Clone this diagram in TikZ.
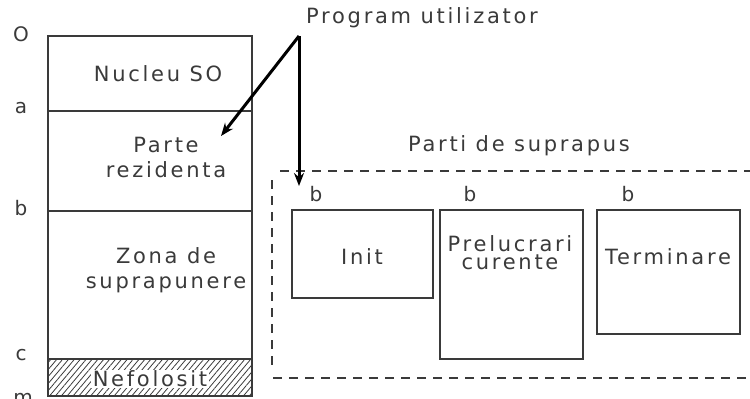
\documentclass[tikz,border=0pt]{standalone}
\usepackage{fontspec}
\setmainfont{DejaVu Sans}
\newfontfamily\cadfont[LetterSpace=13]{DejaVu Sans}
\usetikzlibrary{patterns.meta,arrows.meta}
\definecolor{ink}{HTML}{3A3A3A}
\tikzset{
  seg/.style={draw=ink, line width=1.3pt, inner sep=0pt, rectangle},
  lbl/.style={text=ink, font=\cadfont\fontsize{21}{17}\selectfont, inner sep=0pt, align=center},
  axis/.style={text=ink, font=\cadfont\fontsize{20}{20}\selectfont, inner sep=0pt},
  arr/.style={draw=black, line width=3pt, -{Stealth[length=13pt,width=10pt]}},
  dashline/.style={draw=ink, line width=1.3pt, dash pattern=on 9pt off 7pt},
}
\begin{document}
\begin{tikzpicture}[x=1pt,y=-1pt]
\useasboundingbox (0,0) rectangle (750,399);
% memory column
\node[seg, minimum width=204pt, minimum height=75pt] (nuc) at (150,73.5) {};
\node[seg, minimum width=204pt, minimum height=100pt] (rez) at (150,161) {};
\node[seg, minimum width=204pt, minimum height=148pt] (zona) at (150,285) {};
\node[seg, minimum width=204pt, minimum height=37pt, pattern={Lines[angle=50,distance=4.5pt,line width=0.8pt]}, pattern color=ink] (nef) at (150,377.5) {};
\node[lbl] (tnuc) at (158,74) {Nucleu SO};
\node[lbl] (trez) at (166,157) {Parte\\[8pt]rezidenta};
\node[lbl] (tzona) at (166,270) {Zona de\\[8pt]suprapunere};
\node[lbl, fill=white, inner xsep=2pt, inner ysep=1pt] (tnef) at (150,379) {Nefolosit};
% axis labels
\node[axis] (lO) at (21,34) {O};
\node[axis] (la) at (21,108) {a};
\node[axis] (lb) at (21,208) {b};
\node[axis] (lc) at (21,355) {c};
\node[axis] (lm) at (23,399) {m};
% overlay parts
\node[lbl] (prog) at (422,18) {Program utilizator};
\node[lbl] (parti) at (519,146) {Parti de suprapus};
\draw[dashline] (280,171) -- (750,171);
\draw[dashline] (273,378) -- (750,378);
\draw[dashline] (272,180) -- (272,370);
\node[seg, minimum width=141pt, minimum height=88pt] (init) at (362.5,254) {};
\node[seg, minimum width=143pt, minimum height=149pt] (prel) at (511.5,284.5) {};
\node[seg, minimum width=143pt, minimum height=124pt] (term) at (668.5,272) {};
\node[lbl] (tinit) at (362,257) {Init};
\node[lbl] (tprel) at (510,253) {Prelucrari\\[1pt]curente};
\node[lbl] (tterm) at (668,257) {Terminare};
\node[axis] (b1) at (316,194) {b};
\node[axis] (b2) at (470,194) {b};
\node[axis] (b3) at (628,194) {b};
% arrows
\coordinate (apex) at (299,36);
\coordinate (endrez) at (221,136);
\coordinate (endpart) at (299,186);
\draw[arr] (apex) -- (endrez);
\draw[arr] (apex) -- (endpart);
\end{tikzpicture}
\end{document}
